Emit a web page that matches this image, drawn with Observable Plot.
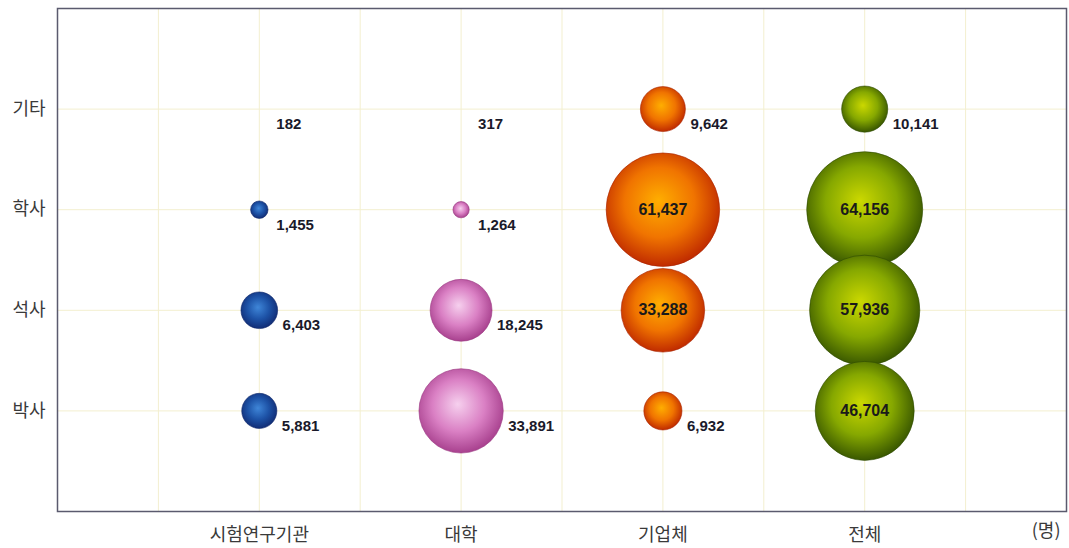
<!DOCTYPE html>
<html><head><meta charset="utf-8">
<script src="https://cdn.jsdelivr.net/npm/d3@7"></script>
<script src="https://cdn.jsdelivr.net/npm/@observablehq/plot@0.6"></script>
<style>body{margin:0;background:#fff}</style>
</head><body><div id="chart"></div>
<script>
// Categories
const institutions = ["시험연구기관", "대학", "기업체", "전체"];
const degrees = ["박사", "석사", "학사", "기타"];
// Series values (order follows `degrees`)
const researchInst = [5881, 6403, 1455, 182];
const university   = [33891, 18245, 1264, 317];
const industry     = [6932, 33288, 61437, 9642];
const total        = [46704, 57936, 64156, 10141];
const unitLabel = ["(명)"];

const series = [researchInst, university, industry, total];
const data = [];
series.forEach((vals, i) => vals.forEach((v, j) => data.push({
  inst: institutions[i], i, deg: degrees[j], j, value: v,
  x: 2 * (i + 1), y: j + 1
})));

const maxV = d3.max(data, d => d.value);
const R_MAX = 58;
const rPx = d3.scaleSqrt([0, maxV], [0, R_MAX]);
const fmt = v => v.toLocaleString("en-US");

const gradients = [
  {id: "g0", stops: [["0%", "#3f86d8"], ["55%", "#1d52a6"], ["100%", "#112c74"]], edge: "#10286a"},
  {id: "g1", stops: [["0%", "#f6d0ee"], ["55%", "#da80c4"], ["100%", "#a63e8c"]], edge: "#98357f"},
  {id: "g2", stops: [["0%", "#ffae00"], ["55%", "#f07400"], ["100%", "#be2800"]], edge: "#a82400"},
  {id: "g3", stops: [["0%", "#cbd800"], ["55%", "#86a800"], ["100%", "#365400"]], edge: "#2e4a00"}
];

const bubbles = data.filter(d => d.value >= 1000);
const inside = d => d.i >= 2 && d.value > 20000;

const marks = [
  Plot.gridX([1,2,3,4,5,6,7,8,9], {stroke: "#f3efcf", strokeOpacity: 1, strokeWidth: 1}),
  Plot.gridY([1,2,3,4], {stroke: "#f3efcf", strokeOpacity: 1, strokeWidth: 1}),
  Plot.axisX([2,4,6,8], {tickSize: 0, tickPadding: 17, tickFormat: d => institutions[d/2 - 1],
    fontSize: 18, fontFamily: "Noto Sans CJK KR", fill: "#3a3a3a", label: null}),
  Plot.axisY([1,2,3,4], {tickSize: 0, tickPadding: 12, tickFormat: d => degrees[d - 1],
    fontSize: 18, fontFamily: "Noto Sans CJK KR", fill: "#3a3a3a", label: null}),
  ...institutions.map((name, i) => Plot.dot(bubbles.filter(d => d.i === i), {
    x: "x", y: "y", r: "value", fill: `url(#${gradients[i].id})`,
    stroke: gradients[i].edge, strokeWidth: 0.6
  })),
  Plot.text(data.filter(inside), {x: "x", y: "y", text: d => fmt(d.value),
    fontSize: 16, fontWeight: "bold", fontFamily: "Liberation Sans, Arial", fill: "#1a1a1a"}),
  ...data.filter(d => !inside(d)).map(d => Plot.text([d], {
    x: "x", y: "y", text: d => fmt(d.value), textAnchor: "start",
    dx: Math.max(rPx(d.value), 12) + 5, dy: 15,
    fontSize: 15, fontWeight: "bold", fontFamily: "Liberation Sans, Arial", fill: "#1a1a2a"
  })),
  Plot.text(unitLabel, {frameAnchor: "bottom-right", dx: -6, dy: 25, textAnchor: "end",
    text: d => d, fontSize: 18, fontFamily: "Noto Sans CJK KR", fill: "#3a3a3a"}),
  Plot.frame({stroke: "#5a5a6e", strokeWidth: 1.5})
];

const svg = Plot.plot({
  width: 1069, height: 548,
  marginLeft: 57, marginRight: 3, marginTop: 8, marginBottom: 37,
  x: {domain: [0, 10], axis: null},
  y: {domain: [0, 5], axis: null},
  r: {type: "sqrt", domain: [0, maxV], range: [0, R_MAX]},
  style: {background: "#fff", overflow: "visible"},
  marks
});

const defs = d3.select(svg).insert("defs", ":first-child");
gradients.forEach(g => {
  const rg = defs.append("radialGradient").attr("id", g.id)
    .attr("cx", "48%").attr("cy", "45%").attr("r", "56%").attr("fx", "46%").attr("fy", "42%");
  g.stops.forEach(([o, c]) => rg.append("stop").attr("offset", o).attr("stop-color", c));
});

document.getElementById("chart").appendChild(svg);
</script>
</body></html>
